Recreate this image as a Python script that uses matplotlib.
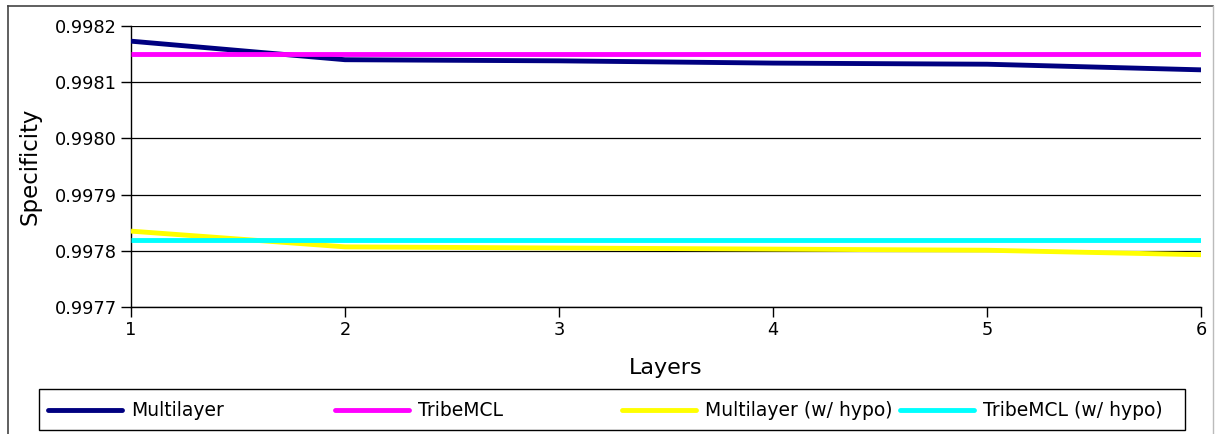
import numpy as np
import matplotlib
matplotlib.use("Agg")
import matplotlib.pyplot as plt
from matplotlib.lines import Line2D
from matplotlib.patches import Rectangle

layers = [1, 2, 3, 4, 5, 6]
multilayer = [0.998173, 0.998140, 0.998138, 0.998134, 0.998132, 0.998122]
tribemcl = [0.998150, 0.998150, 0.998150, 0.998150, 0.998150, 0.998150]
multilayer_hypo = [0.997835, 0.997807, 0.997805, 0.997803, 0.997801, 0.997793]
tribemcl_hypo = [0.997820, 0.997820, 0.997820, 0.997820, 0.997820, 0.997820]

names = ['Multilayer', 'TribeMCL', 'Multilayer (w/ hypo)', 'TribeMCL (w/ hypo)']
colors = ['#000080', '#ff00ff', '#ffff00', '#00ffff']
series = [multilayer, tribemcl, multilayer_hypo, tribemcl_hypo]

W, H = 1216, 434
fig = plt.figure(figsize=(W / 100, H / 100), dpi=100)
ax = fig.add_axes([131 / W, 1 - 307 / H, (1201 - 131) / W, (307 - 26) / H])

for s, c in zip(series, colors):
    ax.plot(layers, s, color=c, lw=3.5, solid_capstyle='butt', zorder=3)

ax.set_xlim(1, 6)
ax.set_ylim(0.9977, 0.9982)
ax.set_yticks(np.arange(0.9977, 0.99821, 0.0001))
ax.yaxis.set_major_formatter(matplotlib.ticker.FormatStrFormatter('%.4f'))
ax.set_xticks(layers)
ax.grid(axis='y', color='black', lw=0.9)
ax.set_axisbelow(True)
ax.spines['top'].set_visible(False)
ax.spines['right'].set_visible(False)
ax.spines['left'].set_linewidth(1.0)
ax.spines['bottom'].set_linewidth(1.0)
ax.tick_params(axis='both', labelsize=12.8, length=7, width=1.0, pad=3)
ax.set_xlabel('Layers', fontsize=16, labelpad=14)
ax.set_ylabel('Specificity', fontsize=16.5, labelpad=10)

# outer frame
fig.add_artist(Line2D([8 / W, 8 / W], [0, 1 - 6 / H], color='#444444', lw=1.2))
fig.add_artist(Line2D([8 / W, 1213 / W], [1 - 6 / H, 1 - 6 / H], color='#444444', lw=1.2))
fig.add_artist(Line2D([1213 / W, 1213 / W], [0, 1 - 6 / H], color='#bbbbbb', lw=1.0))

# legend box with equal-width columns
fig.add_artist(Rectangle((39 / W, 1 - 430 / H), (1185 - 39) / W, (430 - 389) / H,
                         transform=fig.transFigure, fill=False, edgecolor='black', lw=1.0))
ly = 1 - 410 / H
starts = [48, 335, 622, 900]
for x0, name, c in zip(starts, names, colors):
    fig.add_artist(Line2D([x0 / W, (x0 + 74) / W], [ly, ly], color=c, lw=3.5,
                          solid_capstyle='round'))
    fig.text((x0 + 83) / W, ly, name, fontsize=13.5, va='center', ha='left')

fig.savefig('out.png', dpi=100)
